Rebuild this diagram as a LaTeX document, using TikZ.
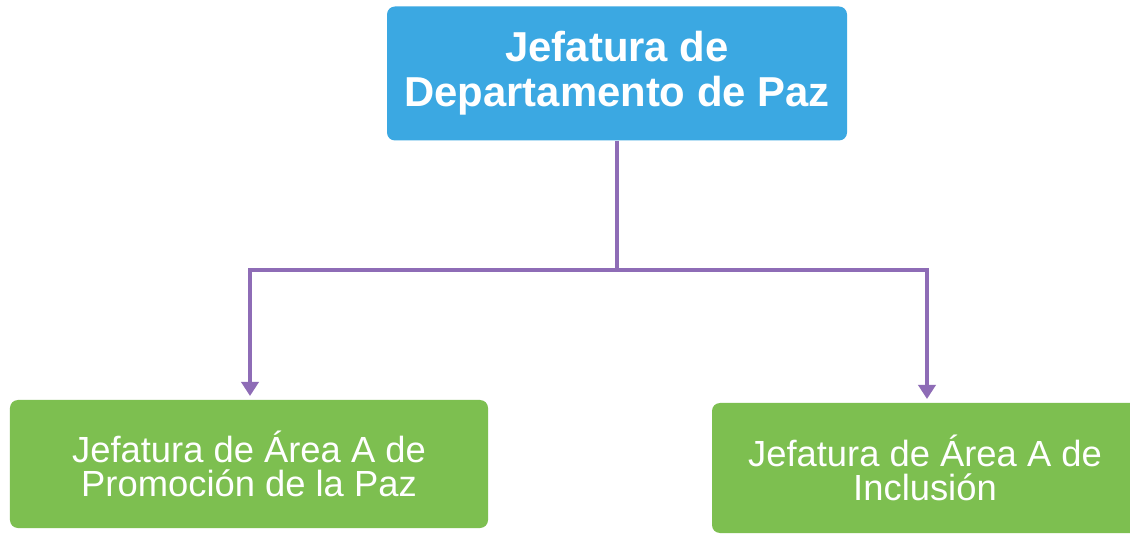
\documentclass[tikz,border=0pt]{standalone}
\usepackage{fontspec}
\setmainfont{Liberation Sans}
\usetikzlibrary{arrows.meta}
\definecolor{topblue}{HTML}{3BA8E2}
\definecolor{boxgreen}{HTML}{7DBF50}
\definecolor{linepurple}{HTML}{8E6CB6}
\tikzset{
  topbox/.style={fill=topblue, rounded corners=8bp, text=white, align=center,
    font=\fontsize{42}{45}\selectfont\bfseries, inner sep=0pt},
  subbox/.style={fill=boxgreen, rounded corners=8bp, text=white, align=center,
    font=\fontsize{36.5}{34}\selectfont, inner sep=0pt},
  link/.style={draw=linepurple, line width=4bp},
  tip/.style={-{Triangle[width=17bp,length=14bp]}}
}
\begin{document}
\begin{tikzpicture}[x=1bp,y=-1bp]
\useasboundingbox (0,0) rectangle (1130,535);
\fill[white] (0,0) rectangle (1130,535);
\begin{scope}
\clip (0,0) rectangle (1130,535);
\node[topbox, minimum width=460bp, minimum height=134bp] (top) at (617,73.5) {Jefatura de\\Departamento de Paz};
\node[subbox, minimum width=478bp, minimum height=128bp] (left) at (249,464) {Jefatura de Área A de\\Promoción de la Paz};
\node[subbox, minimum width=426bp, minimum height=130bp] (right) at (925,468) {Jefatura de Área A de\\Inclusión};
\end{scope}
\coordinate (j) at (617,270);
\coordinate (lt) at (250,396);
\coordinate (rt) at (927,399);
\draw[link] (top.south) -- (j);
\draw[link, tip] (j) -| (lt);
\draw[link, tip] (j) -| (rt);
\end{tikzpicture}
\end{document}
